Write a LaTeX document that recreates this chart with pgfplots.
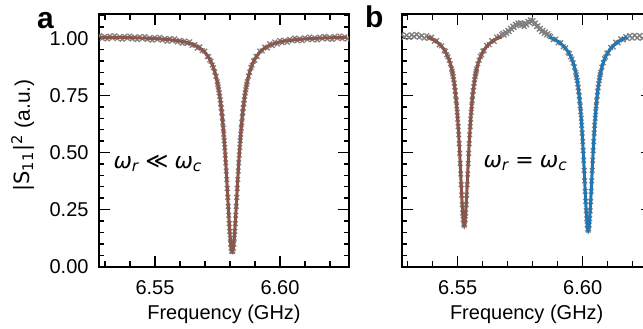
\documentclass[border=0pt]{standalone}
\usepackage{fontspec}
\setmainfont{Liberation Sans}
\newfontfamily\dv{DejaVu Sans}
\usepackage{pgfplots}
\usepackage{pgfplotstable}
\pgfplotsset{compat=1.18}
\definecolor{tabbrown}{HTML}{8C564B}
\definecolor{tabblue}{HTML}{1F77B4}
\definecolor{mk}{RGB}{128,128,128}

\pgfplotstableread{
f fit d
6.5279 1.0048 1.0118
6.5289 1.0046 0.9996
6.5299 1.0045 1.0075
6.5309 1.0044 0.9974
6.5319 1.0043 1.0093
6.5329 1.0041 1.0011
6.5339 1.0040 1.0110
6.5349 1.0038 0.9988
6.5359 1.0036 1.0066
6.5369 1.0034 0.9964
6.5379 1.0032 1.0082
6.5389 1.0029 0.9999
6.5399 1.0027 1.0097
6.5409 1.0024 0.9974
6.5419 1.0021 1.0051
6.5429 1.0018 0.9948
6.5439 1.0014 1.0064
6.5449 1.0011 0.9981
6.5459 1.0007 1.0077
6.5469 1.0002 0.9952
6.5479 0.9996 1.0026
6.5489 0.9991 0.9921
6.5499 0.9986 1.0036
6.5509 0.9980 0.9950
6.5519 0.9973 1.0043
6.5529 0.9965 0.9915
6.5539 0.9956 0.9986
6.5549 0.9947 0.9877
6.5559 0.9937 0.9987
6.5569 0.9924 0.9894
6.5579 0.9910 0.9980
6.5589 0.9895 0.9845
6.5599 0.9878 0.9908
6.5609 0.9859 0.9789
6.5619 0.9835 0.9885
6.5629 0.9809 0.9779
6.5639 0.9776 0.9846
6.5649 0.9739 0.9689
6.5659 0.9694 0.9724
6.5669 0.9640 0.9570
6.5679 0.9573 0.9623
6.5689 0.9491 0.9461
6.5699 0.9387 0.9437
6.5709 0.9254 0.9204
6.5714 0.9174 0.9204
6.5719 0.9081 0.9051
6.5724 0.8974 0.8994
6.5729 0.8850 0.8830
6.5734 0.8706 0.8716
6.5739 0.8535 0.8525
6.5744 0.8334 0.8334
6.5749 0.8095 0.8095
6.5751 0.7987 0.7987
6.5753 0.7870 0.7870
6.5755 0.7745 0.7745
6.5757 0.7610 0.7610
6.5759 0.7464 0.7464
6.5761 0.7307 0.7307
6.5763 0.7138 0.7138
6.5765 0.6955 0.6955
6.5767 0.6758 0.6758
6.5769 0.6545 0.6545
6.5771 0.6316 0.6316
6.5773 0.6069 0.6069
6.5775 0.5804 0.5804
6.5777 0.5519 0.5519
6.5779 0.5216 0.5216
6.5781 0.4892 0.4892
6.5783 0.4550 0.4550
6.5785 0.4190 0.4190
6.5787 0.3815 0.3815
6.5789 0.3429 0.3429
6.5791 0.3035 0.3035
6.5793 0.2642 0.2642
6.5795 0.2256 0.2256
6.5797 0.1888 0.1888
6.5799 0.1548 0.1548
6.5801 0.1248 0.1248
6.5803 0.1000 0.1000
6.5805 0.0814 0.0814
6.5807 0.0699 0.0699
6.5809 0.0660 0.0660
6.5811 0.0699 0.0699
6.5813 0.0814 0.0814
6.5815 0.1000 0.1000
6.5817 0.1248 0.1248
6.5819 0.1548 0.1548
6.5821 0.1888 0.1888
6.5823 0.2256 0.2256
6.5825 0.2642 0.2642
6.5827 0.3035 0.3035
6.5829 0.3429 0.3429
6.5831 0.3815 0.3815
6.5833 0.4190 0.4190
6.5835 0.4550 0.4550
6.5837 0.4892 0.4892
6.5839 0.5216 0.5216
6.5841 0.5519 0.5519
6.5843 0.5804 0.5804
6.5845 0.6069 0.6069
6.5847 0.6316 0.6316
6.5849 0.6545 0.6545
6.5851 0.6758 0.6758
6.5853 0.6955 0.6955
6.5855 0.7138 0.7138
6.5857 0.7307 0.7307
6.5859 0.7464 0.7464
6.5861 0.7610 0.7610
6.5863 0.7745 0.7745
6.5865 0.7870 0.7870
6.5867 0.7987 0.7987
6.5869 0.8095 0.8095
6.5874 0.8334 0.8344
6.5879 0.8535 0.8515
6.5884 0.8706 0.8726
6.5889 0.8850 0.8820
6.5894 0.8974 0.9004
6.5899 0.9081 0.9041
6.5904 0.9174 0.9214
6.5909 0.9254 0.9204
6.5919 0.9387 0.9447
6.5929 0.9491 0.9441
6.5939 0.9573 0.9613
6.5949 0.9640 0.9580
6.5959 0.9694 0.9754
6.5969 0.9739 0.9679
6.5979 0.9776 0.9836
6.5989 0.9809 0.9749
6.5999 0.9835 0.9905
6.6009 0.9859 0.9809
6.6019 0.9878 0.9908
6.6029 0.9895 0.9825
6.6039 0.9910 0.9960
6.6049 0.9924 0.9894
6.6059 0.9937 1.0007
6.6069 0.9947 0.9897
6.6079 0.9956 0.9986
6.6089 0.9965 0.9895
6.6099 0.9973 1.0023
6.6109 0.9980 0.9950
6.6119 0.9986 1.0056
6.6129 0.9991 0.9941
6.6139 0.9996 1.0026
6.6149 1.0002 0.9932
6.6159 1.0007 1.0057
6.6169 1.0011 0.9981
6.6179 1.0014 1.0084
6.6189 1.0018 0.9968
6.6199 1.0021 1.0051
6.6209 1.0024 0.9954
6.6219 1.0027 1.0077
6.6229 1.0029 0.9999
6.6239 1.0032 1.0102
6.6249 1.0034 0.9984
6.6259 1.0036 1.0066
6.6269 1.0038 0.9968
}\tabA

\pgfplotstableread{
f r b d
6.5276 nan nan 1.017
6.5286 nan nan 1.005
6.5296 nan nan 1.013
6.5306 nan nan 1.003
6.5316 nan nan 1.015
6.5326 nan nan 1.007
6.5336 nan nan 1.017
6.5346 nan nan 1.005
6.5356 nan nan 1.012
6.5366 nan nan 1.001
6.5376 1.006 nan 1.011
6.5386 1.003 nan 1.000
6.5396 0.998 nan 1.005
6.5406 0.992 nan 0.987
6.5416 0.985 nan 0.990
6.5426 0.976 nan 0.971
6.5436 0.964 nan 0.967
6.5446 0.950 nan 0.947
6.5451 0.941 nan 0.943
6.5456 0.930 nan 0.928
6.5461 0.918 nan 0.919
6.5466 0.904 nan 0.904
6.5471 0.888 nan 0.888
6.5476 0.8654 nan 0.8654
6.5478 0.8554 nan 0.8554
6.5480 0.8444 nan 0.8444
6.5482 0.8323 nan 0.8323
6.5484 0.8190 nan 0.8190
6.5486 0.8043 nan 0.8043
6.5488 0.7880 nan 0.7880
6.5490 0.7700 nan 0.7700
6.5492 0.7501 nan 0.7501
6.5494 0.7280 nan 0.7280
6.5496 0.7035 nan 0.7035
6.5498 0.6764 nan 0.6764
6.5500 0.6465 nan 0.6465
6.5502 0.6136 nan 0.6136
6.5504 0.5776 nan 0.5776
6.5506 0.5385 nan 0.5385
6.5508 0.4965 nan 0.4965
6.5510 0.4520 nan 0.4520
6.5512 0.4059 nan 0.4059
6.5514 0.3592 nan 0.3592
6.5516 0.3136 nan 0.3136
6.5518 0.2714 nan 0.2714
6.5520 0.2348 nan 0.2348
6.5522 0.2063 nan 0.2063
6.5524 0.1882 nan 0.1882
6.5526 0.1820 nan 0.1820
6.5528 0.1882 nan 0.1882
6.5530 0.2063 nan 0.2063
6.5532 0.2348 nan 0.2348
6.5534 0.2714 nan 0.2714
6.5536 0.3136 nan 0.3136
6.5538 0.3592 nan 0.3592
6.5540 0.4059 nan 0.4059
6.5542 0.4520 nan 0.4520
6.5544 0.4965 nan 0.4965
6.5546 0.5385 nan 0.5385
6.5548 0.5776 nan 0.5776
6.5550 0.6136 nan 0.6136
6.5552 0.6465 nan 0.6465
6.5554 0.6764 nan 0.6764
6.5556 0.7035 nan 0.7035
6.5558 0.7280 nan 0.7280
6.5560 0.7501 nan 0.7501
6.5562 0.7700 nan 0.7700
6.5564 0.7880 nan 0.7880
6.5566 0.8043 nan 0.8043
6.5568 0.8190 nan 0.8190
6.5570 0.8323 nan 0.8323
6.5572 0.8444 nan 0.8444
6.5574 0.8554 nan 0.8554
6.5576 0.8654 nan 0.8654
6.5581 0.888 nan 0.888
6.5586 0.904 nan 0.904
6.5591 0.918 nan 0.921
6.5596 0.930 nan 0.928
6.5601 0.941 nan 0.944
6.5606 0.950 nan 0.946
6.5616 0.964 nan 0.969
6.5626 0.976 nan 0.972
6.5636 0.985 nan 0.990
6.5646 0.992 nan 0.986
6.5656 0.998 nan 1.005
6.5666 1.003 nan 1.008
6.5676 1.006 nan 1.016
6.5681 nan nan 1.022
6.5686 nan nan 1.014
6.5691 nan nan 1.027
6.5696 nan nan 1.021
6.5701 nan nan 1.035
6.5706 nan nan 1.029
6.5711 nan nan 1.044
6.5716 nan nan 1.039
6.5721 nan nan 1.053
6.5726 nan nan 1.047
6.5731 nan nan 1.061
6.5736 nan nan 1.055
6.5741 nan nan 1.067
6.5746 nan nan 1.059
6.5751 nan nan 1.068
6.5756 nan nan 1.057
6.5761 nan nan 1.064
6.5766 nan nan 1.052
6.5771 nan nan 1.065
6.5776 nan nan 1.059
6.5781 nan nan 1.074
6.5786 nan nan 1.068
6.5791 nan nan 1.081
6.5796 nan nan 1.073
6.5801 nan nan 1.078
6.5806 nan nan 1.063
6.5811 nan nan 1.067
6.5816 nan nan 1.051
6.5821 nan nan 1.055
6.5826 nan nan 1.040
6.5831 nan nan 1.044
6.5836 nan nan 1.029
6.5841 nan nan 1.035
6.5846 nan nan 1.021
6.5851 nan nan 1.028
6.5856 nan nan 1.015
6.5861 nan nan 1.021
6.5866 nan 1.004 1.012
6.5872 nan 1.002 1.008
6.5882 nan 0.998 0.994
6.5892 nan 0.992 0.997
6.5902 nan 0.985 0.980
6.5912 nan 0.977 0.981
6.5922 nan 0.967 0.963
6.5932 nan 0.955 0.958
6.5942 nan 0.940 0.937
6.5947 nan 0.931 0.933
6.5952 nan 0.921 0.919
6.5957 nan 0.908 0.909
6.5962 nan 0.893 0.893
6.5967 nan 0.874 0.874
6.5972 nan 0.8508 0.8508
6.5974 nan 0.8400 0.8400
6.5976 nan 0.8281 0.8281
6.5978 nan 0.8151 0.8151
6.5980 nan 0.8008 0.8008
6.5982 nan 0.7850 0.7850
6.5984 nan 0.7676 0.7676
6.5986 nan 0.7485 0.7485
6.5988 nan 0.7273 0.7273
6.5990 nan 0.7040 0.7040
6.5992 nan 0.6783 0.6783
6.5994 nan 0.6500 0.6500
6.5996 nan 0.6190 0.6190
6.5998 nan 0.5850 0.5850
6.6000 nan 0.5481 0.5481
6.6002 nan 0.5084 0.5084
6.6004 nan 0.4660 0.4660
6.6006 nan 0.4215 0.4215
6.6008 nan 0.3758 0.3758
6.6010 nan 0.3300 0.3300
6.6012 nan 0.2857 0.2857
6.6014 nan 0.2450 0.2450
6.6016 nan 0.2100 0.2100
6.6018 nan 0.1830 0.1830
6.6020 nan 0.1659 0.1659
6.6022 nan 0.1600 0.1600
6.6024 nan 0.1659 0.1659
6.6026 nan 0.1830 0.1830
6.6028 nan 0.2100 0.2100
6.6030 nan 0.2450 0.2450
6.6032 nan 0.2857 0.2857
6.6034 nan 0.3300 0.3300
6.6036 nan 0.3758 0.3758
6.6038 nan 0.4215 0.4215
6.6040 nan 0.4660 0.4660
6.6042 nan 0.5084 0.5084
6.6044 nan 0.5481 0.5481
6.6046 nan 0.5850 0.5850
6.6048 nan 0.6190 0.6190
6.6050 nan 0.6500 0.6500
6.6052 nan 0.6783 0.6783
6.6054 nan 0.7040 0.7040
6.6056 nan 0.7273 0.7273
6.6058 nan 0.7485 0.7485
6.6060 nan 0.7676 0.7676
6.6062 nan 0.7850 0.7850
6.6064 nan 0.8008 0.8008
6.6066 nan 0.8151 0.8151
6.6068 nan 0.8281 0.8281
6.6070 nan 0.8400 0.8400
6.6072 nan 0.8508 0.8508
6.6077 nan 0.874 0.874
6.6082 nan 0.893 0.893
6.6087 nan 0.908 0.911
6.6092 nan 0.921 0.918
6.6097 nan 0.931 0.935
6.6102 nan 0.940 0.936
6.6112 nan 0.955 0.960
6.6122 nan 0.967 0.962
6.6132 nan 0.977 0.983
6.6142 nan 0.985 0.980
6.6152 nan 0.992 0.998
6.6162 nan 0.998 0.993
6.6172 nan 1.002 1.008
6.6178 nan 1.004 0.999
6.6188 nan nan 1.012
6.6198 nan nan 1.001
6.6208 nan nan 1.013
6.6218 nan nan 1.002
6.6228 nan nan 1.012
6.6238 nan nan 1.000
6.6248 nan nan 1.011
6.6258 nan nan 1.002
6.6268 nan nan 1.012
6.6278 nan nan 1.003
}\tabB

\pgfplotsset{
  panel/.style={
    scale only axis, width=125pt, height=126.2pt,
    xmin=6.5276, xmax=6.6276, ymin=0, ymax=1.105,
    scaled ticks=false,
    xtick={6.55,6.60},
    minor xtick={6.53,6.54,6.56,6.57,6.58,6.59,6.61,6.62},
    ytick={0,0.25,0.5,0.75,1},
    minor ytick={0.05,0.1,0.15,0.2,0.3,0.35,0.4,0.45,0.55,0.6,0.65,0.7,0.8,0.85,0.9,0.95,1.05,1.1},
    tick align=inside, tick pos=both,
    major tick length=5.5pt, minor tick length=2.7pt,
    axis line style={line width=1pt},
    tick style={line width=0.7pt, black},
    tick label style={font=\fontsize{10}{12}\selectfont},
    xticklabel style={yshift=-3.4pt, /pgf/number format/fixed, /pgf/number format/fixed zerofill, /pgf/number format/precision=2, /pgf/number format/assume math mode=true},
    yticklabel style={xshift=-1.7pt, /pgf/number format/fixed, /pgf/number format/fixed zerofill, /pgf/number format/precision=2, /pgf/number format/assume math mode=true},
    xlabel={Frequency (GHz)},
    xlabel style={at={(axis description cs:0.5,-0.211)}, anchor=base, font=\fontsize{10}{12}\selectfont},
    clip=true, clip marker paths=true,
    unbounded coords=jump,
  },
  marks/.style={only marks, mark=x, mark size=1.65pt, color=mk, mark options={line width=0.65pt}},
}

\begin{document}
\begin{tikzpicture}
\path[use as bounding box] (0,0) rectangle (321.5pt,-164pt);
\begin{axis}[panel, at={(49.5pt,-133.35pt)}, anchor=south west,
  ylabel={{\dv |S\textsubscript{11}|\textsuperscript{2}} (a.u.)},
  ylabel style={at={(axis description cs:-0.304,0.52)}, anchor=center, font=\fontsize{10.5}{12}\selectfont}]
\addplot[marks] table[x=f, y=d] {\tabA};
\addplot[no marks, color=tabbrown, line width=1.5pt] table[x=f, y=fit] {\tabA};
\node[font=\fontsize{11}{13}\selectfont] at (axis cs:6.5512,0.453) {{\dv\itshape ω\textsubscript{r}} {\dv ≪} {\dv\itshape ω\textsubscript{c}}};
\end{axis}
\begin{axis}[panel, at={(200.85pt,-133.35pt)}, anchor=south west, yticklabels={}]
\addplot[marks] table[x=f, y=d] {\tabB};
\addplot[no marks, color=tabbrown, line width=1.5pt] table[x=f, y=r] {\tabB};
\addplot[no marks, color=tabblue, line width=1.5pt] table[x=f, y=b] {\tabB};
\node[font=\fontsize{11}{13}\selectfont] at (axis cs:6.5772,0.453) {{\dv\itshape ω\textsubscript{r}} {\dv =} {\dv\itshape ω\textsubscript{c}}};
\end{axis}
\node[font=\bfseries\fontsize{15}{17}\selectfont, anchor=base] at (22.75pt,-14pt) {a};
\node[font=\bfseries\fontsize{15}{17}\selectfont, anchor=base] at (187.2pt,-13.5pt) {b};
\end{tikzpicture}
\end{document}
